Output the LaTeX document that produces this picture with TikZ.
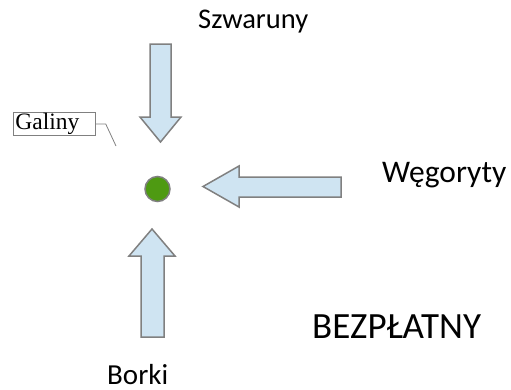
\documentclass[tikz,border=0pt]{standalone}
\usepackage{fontspec}
\usetikzlibrary{calc}
\setmainfont{Carlito}
\newfontfamily\galfont{Liberation Serif}
\definecolor{arrowfill}{RGB}{207,228,242}
\definecolor{arrowline}{RGB}{128,128,128}
\definecolor{dotgreen}{RGB}{78,154,18}
\begin{document}
\begin{tikzpicture}[x=1pt,y=-1pt,
  bigarrow/.style={draw=arrowline,fill=arrowfill,line width=1.5pt,line join=miter},
  lbl/.style={inner sep=0pt,anchor=base west},
  galbox/.style={draw=arrowline,line width=0.8pt,font=\galfont\fontsize{23.5}{25}\selectfont,inner sep=1pt,minimum width=82pt,minimum height=20pt,text width=78pt,align=left}]
\useasboundingbox (0,0) rectangle (511,389);
% down arrow
\draw[bigarrow] (150,44) -- (171,44) -- (171,117) -- (181,117) -- (160.5,142) -- (140,117) -- (150,117) -- cycle;
% left arrow
\draw[bigarrow] (341,177) -- (239,177) -- (239,166) -- (203,186.5) -- (239,207) -- (239,197) -- (341,197) -- cycle;
% up arrow
\draw[bigarrow] (141,337) -- (141,256) -- (129,256) -- (152,229) -- (175,256) -- (164,256) -- (164,337) -- cycle;
% dot
\node[circle,draw=arrowline,fill=dotgreen,line width=1.5pt,minimum size=25pt,inner sep=0pt] (dot) at (157.5,189) {};
% labels
\node[lbl,font=\fontsize{28.5}{34}\selectfont] (sz) at (198,28) {Szwaruny};
\node[lbl,font=\fontsize{31.5}{38}\selectfont] (we) at (382,182) {Węgoryty};
\node[lbl,font=\fontsize{37}{44}\selectfont] (bz) at (312,338) {BEZPŁATNY};
\node[lbl,font=\fontsize{29}{35}\selectfont] (bo) at (107,384) {Borki};
% Galiny callout
\node[galbox,anchor=north west] (gal) at (13,112) {Galiny};
\coordinate (galbend) at ($(gal.east)+(10,0)$);
\coordinate (galend) at (116,146);
\draw[arrowline,line width=0.8pt] (gal.east) -- (galbend) -- (galend);
\end{tikzpicture}
\end{document}
